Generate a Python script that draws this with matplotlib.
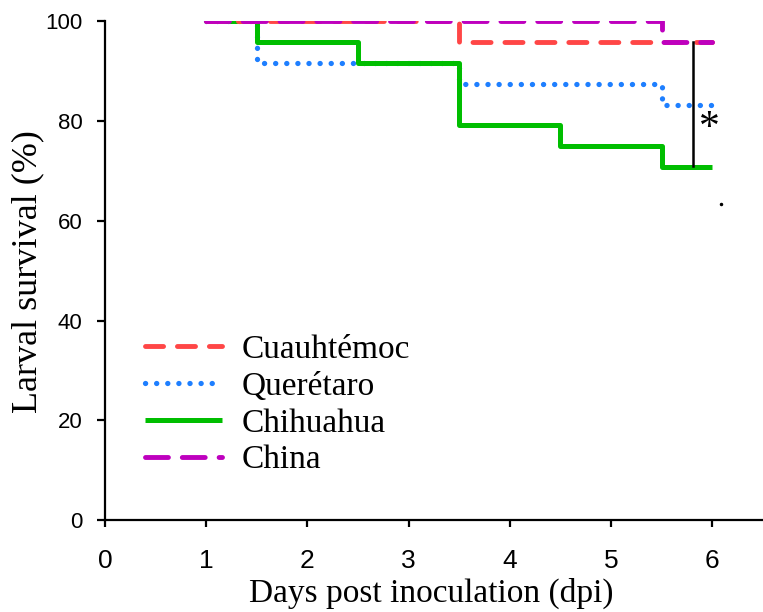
import matplotlib
matplotlib.use("Agg")
import matplotlib.pyplot as plt

# datos (supervivencia larval, %)
dias = [1, 1.5, 2.5, 3.5, 4.5, 5.5, 6]
cuauhtemoc = [100, 100, 100, 95.8, 95.8, 95.8, 95.8]
queretaro = [100, 91.7, 91.7, 87.5, 87.5, 83.3, 83.3]
chihuahua = [100, 95.8, 91.7, 79.2, 75.0, 70.8, 70.8]
china = [100, 100, 100, 100, 100, 95.8, 95.8]

nombres = ["Cuauhtémoc", "Querétaro", "Chihuahua", "China"]
colores = ["#FF4646", "#1E7FFF", "#00BE00", "#BE00BE"]

# barra de significancia
sig_x = 5.81
sig_y = [95.8, 71.0]
ast_pos = (5.97, 78.5)

plt.rcParams["lines.scale_dashes"] = False
serif = "Liberation Serif"
sans = "Liberation Sans"

fig = plt.figure(figsize=(7.63, 6.12), dpi=100)
ax = fig.add_axes([0.1374, 0.1503, 0.8626, 0.8146])

estilos = [
    dict(lw=3.5, dashes=(13, 10), dash_capstyle="round", zorder=4),
    dict(lw=3.8, dashes=(0.1, 7.9), dash_capstyle="round", zorder=2),
    dict(lw=3.6, ls="-", solid_capstyle="butt", zorder=3),
    dict(lw=3.5, dashes=(16.5, 10), dash_capstyle="round", zorder=5),
]
series = [cuauhtemoc, queretaro, chihuahua, china]

for nombre, y, c, st in zip(nombres, series, colores, estilos):
    ax.step(dias, y, where="post", color=c, label=nombre, **st)

ax.plot([sig_x, sig_x], sig_y, color="black", lw=1.8, zorder=6)
ax.text(ast_pos[0], ast_pos[1], "*", fontsize=30, family=serif,
        ha="center", va="center")
ax.plot([6.09], [63.4], marker="o", ms=1.5, color="black")

ax.set_xlim(0, 6.5)
ax.set_ylim(0, 100)
ax.set_xticks(range(0, 7))
ax.set_yticks(range(0, 101, 20))
for s in ["top", "right"]:
    ax.spines[s].set_visible(False)
for s in ["left", "bottom"]:
    ax.spines[s].set_linewidth(1.6)
ax.tick_params(axis="y", length=6, width=1.6, pad=10, labelsize=16)
ax.tick_params(axis="x", length=5, width=1.6, pad=16, labelsize=19)
for lab in ax.get_xticklabels() + ax.get_yticklabels():
    lab.set_fontfamily(sans)

ax.set_xlabel("Days post inoculation (dpi)", fontsize=24, family=serif)
ax.xaxis.set_label_coords(0.496, -0.116)
fig.text(28 / 763, 1 - 272 / 612, "Larval survival (%)", fontsize=26,
         family=serif, rotation=90, ha="center", va="center")

ax.legend(loc="center left", bbox_to_anchor=(145 / 763, 1 - 405 / 612),
          bbox_transform=fig.transFigure, frameon=False,
          prop={"family": serif, "size": 24}, handlelength=2.3,
          handletextpad=0.6, labelspacing=0.19, borderpad=0, borderaxespad=0)

fig.savefig("out.png", dpi=100)
